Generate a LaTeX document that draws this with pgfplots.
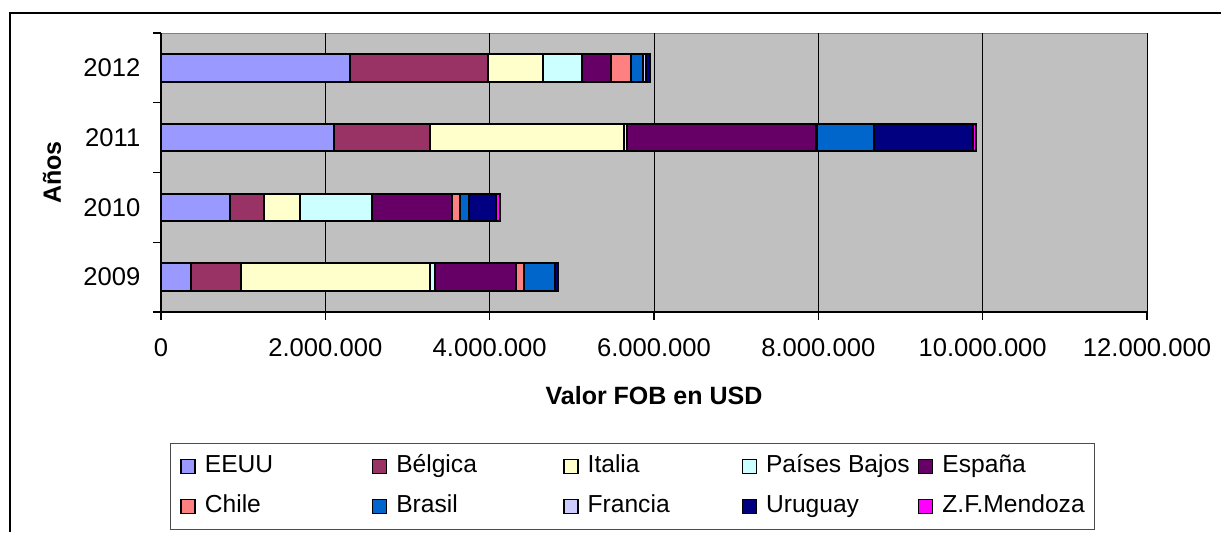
\documentclass[border=0pt]{standalone}
\usepackage{pgfplots}
\pgfplotsset{compat=1.18}
\usepackage{fontspec}
\setmainfont{Liberation Sans}
\definecolor{cEEUU}{RGB}{153,153,255}
\definecolor{cBel}{RGB}{153,51,102}
\definecolor{cIta}{RGB}{255,255,204}
\definecolor{cPB}{RGB}{204,255,255}
\definecolor{cEsp}{RGB}{102,0,102}
\definecolor{cChi}{RGB}{255,128,128}
\definecolor{cBra}{RGB}{0,102,204}
\definecolor{cFra}{RGB}{204,204,255}
\definecolor{cUru}{RGB}{0,0,128}
\definecolor{cZF}{RGB}{255,0,255}
\definecolor{plotbg}{RGB}{192,192,192}
\pgfplotstableread{
y EEUU Belgica Italia PB Espana Chile Brasil Francia Uruguay ZF
0 366000 610000 2301000 60000 985000 98000 378000 0 28000 0
1 845000 403000 447000 874000 976000 98000 104000 0 334000 48000
2 2101000 1171000 2366000 28000 2301000 20000 692000 0 1207000 29000
3 2296000 1680000 674000 472000 358000 243000 143000 33000 52000 0
}\datatable
\begin{document}
\fontsize{12.5}{15}\selectfont
\begin{tikzpicture}[x=0.5pt,y=0.5pt]
\path[use as bounding box] (0,0) rectangle (1221,532);
\draw[line width=1pt] (10,0) -- (10,519) -- (1221,519);
\begin{axis}[
  at={(80.5pt,110pt)}, anchor=south west,
  scale only axis, width=493pt, height=139.5pt,
  xbar stacked, bar width=13.8pt,
  xmin=0, xmax=12000000, ymin=-0.5, ymax=3.5,
  axis background/.style={fill=plotbg, draw=gray},
  axis x line*=bottom, axis y line*=left,
  axis line style={black, line width=0.8pt},
  xtick={0,2000000,4000000,6000000,8000000,10000000,12000000},
  xticklabels={0,2.000.000,4.000.000,6.000.000,8.000.000,10.000.000,12.000.000},
  scaled x ticks=false,
  xmajorgrids, grid style={black, line width=0.5pt},
  tick align=outside, major tick length=4pt,
  tick style={black, line width=0.6pt},
  ytick={-0.5,0.5,1.5,2.5,3.5}, yticklabels={},
  extra y ticks={0,1,2,3},
  extra y tick labels={2009,2010,2011,2012},
  extra y tick style={major tick length=0pt},
  ticklabel style={font=\fontsize{12.8}{15}\selectfont},
  xticklabel style={yshift=-5pt},
  yticklabel style={xshift=-6pt},
  xlabel={\textbf{Valor FOB en USD}},
  xlabel style={at={(axis description cs:0.5,-0.301)}, anchor=center, font=\fontsize{12.5}{15}\selectfont},
  ylabel={\textbf{Años}},
  ylabel style={at={(axis description cs:-0.1105,0.5)}, anchor=center, font=\fontsize{12.5}{15}\selectfont},
  every axis plot/.append style={draw=black, line width=1pt},
  legend image code/.code={\draw[#1, draw=black, line width=0.7pt] (0pt,-3.5pt) rectangle (7pt,3.5pt);},
  legend columns=5,
  legend cell align=left,
  legend style={at={(axis description cs:0.0091,-0.4695)}, anchor=north west,
    draw=black!70, line width=0.5pt, fill=white,
    inner xsep=5pt, inner ysep=5.5pt,
    row sep=8pt,
    nodes={inner sep=0pt, text height=9pt, text depth=3pt, font=\fontsize{12.3}{14}\selectfont},
    /tikz/every odd column/.append style={column sep=4.5pt}},
]
\addplot[fill=cEEUU] table[x=EEUU,y=y]{\datatable};
\addplot[fill=cBel] table[x=Belgica,y=y]{\datatable};
\addplot[fill=cIta] table[x=Italia,y=y]{\datatable};
\addplot[fill=cPB] table[x=PB,y=y]{\datatable};
\addplot[fill=cEsp] table[x=Espana,y=y]{\datatable};
\addplot[fill=cChi] table[x=Chile,y=y]{\datatable};
\addplot[fill=cBra] table[x=Brasil,y=y]{\datatable};
\addplot[fill=cFra] table[x=Francia,y=y]{\datatable};
\addplot[fill=cUru] table[x=Uruguay,y=y]{\datatable};
\addplot[fill=cZF] table[x=ZF,y=y]{\datatable};
\legend{\makebox[83.5pt][l]{EEUU},\makebox[83.5pt][l]{Bélgica},\makebox[77pt][l]{Italia},\makebox[76pt][l]{Países Bajos},España,
\makebox[83.5pt][l]{Chile},\makebox[83.5pt][l]{Brasil},\makebox[77pt][l]{Francia},\makebox[76pt][l]{Uruguay},Z.F.Mendoza}
\end{axis}
\end{tikzpicture}
\end{document}
